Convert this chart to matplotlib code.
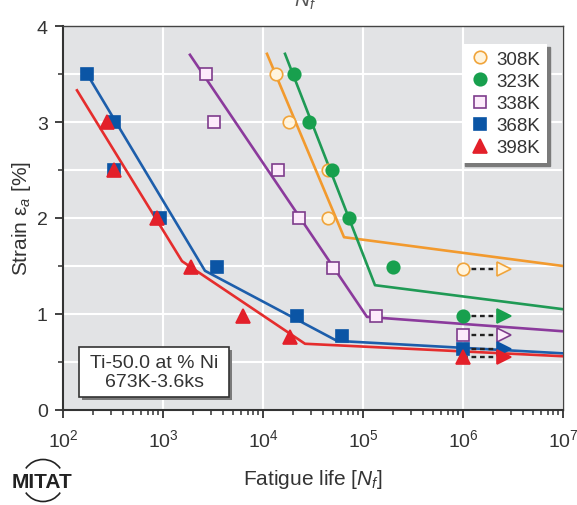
import matplotlib
matplotlib.use('Agg')
import matplotlib.pyplot as plt
from matplotlib.patches import Arc, Rectangle
from matplotlib.ticker import LogLocator, MultipleLocator, NullFormatter

plt.rcParams['font.family'] = ['Liberation Sans', 'DejaVu Sans']
plt.rcParams['mathtext.fontset'] = 'custom'
plt.rcParams['mathtext.rm'] = 'Liberation Sans'
plt.rcParams['mathtext.it'] = 'Liberation Sans:italic'

# fatigue data (cycles, strain %)
labels = ['308K', '323K', '338K', '368K', '398K']

life_308 = [13500, 18200, 44700, 44700]
strain_308 = [3.5, 3.0, 2.5, 2.0]
life_323 = [20400, 28800, 49000, 72400, 200000]
strain_323 = [3.5, 3.0, 2.5, 2.0, 1.49]
life_338 = [2690, 3240, 14100, 22900, 50000, 135000]
strain_338 = [3.5, 3.0, 2.5, 2.0, 1.48, 0.98]
life_368 = [174, 324, 324, 933, 3470, 21900, 61700]
strain_368 = [3.5, 3.0, 2.5, 2.0, 1.49, 0.98, 0.77]
life_398 = [275, 324, 870, 1900, 6300, 18600]
strain_398 = [3.0, 2.5, 2.0, 1.49, 0.98, 0.76]

# run-outs (no failure at 1e6 cycles)
runout_life = 1e6
runout_end = 2.6e6
runout_strain = [1.47, 0.98, 0.78, 0.635, 0.55]

# fitted bilinear/trilinear curves
fit_life_308 = [10960, 64600, 1e7]
fit_strain_308 = [3.71, 1.80, 1.50]
fit_life_323 = [16600, 131800, 1e7]
fit_strain_323 = [3.71, 1.30, 1.05]
fit_life_338 = [1860, 109600, 1e7]
fit_strain_338 = [3.70, 0.97, 0.82]
fit_life_368 = [174, 2630, 55000, 1e7]
fit_strain_368 = [3.5, 1.45, 0.72, 0.59]
fit_life_398 = [138, 1550, 26300, 1e7]
fit_strain_398 = [3.33, 1.55, 0.69, 0.56]

series = [
    (life_308, strain_308, fit_life_308, fit_strain_308, 'o', '#fff4de', '#f0a43a', '#f29a2e'),
    (life_323, strain_323, fit_life_323, fit_strain_323, 'o', '#18a04e', '#18a04e', '#1f9a55'),
    (life_338, strain_338, fit_life_338, fit_strain_338, 's', '#fcebfb', '#7e3c8c', '#8b3a9c'),
    (life_368, strain_368, fit_life_368, fit_strain_368, 's', '#0b55a5', '#0b55a5', '#1d5eab'),
    (life_398, strain_398, fit_life_398, fit_strain_398, '^', '#e3202a', '#e3202a', '#e52d2d'),
]
marker_size = {'o': 9, 's': 8.5, '^': 10}

fig = plt.figure(figsize=(5.77, 5.06), dpi=100)
ax = fig.add_axes([63 / 577, 1 - 411 / 506, 500 / 577, 384 / 506])
ax.set_facecolor('#e2e3e5')

for i, (n, s, fn, fs, mk, fc, ec, lc) in enumerate(series):
    ax.plot(fn, fs, color=lc, lw=1.9, zorder=3)
    ax.plot(n, s, ls='none', marker=mk, ms=marker_size[mk], mfc=fc, mec=ec,
            mew=1.2, label=labels[i], zorder=4)
    # run-out marker, dashed arrow
    r = runout_strain[i]
    ax.plot([runout_life, runout_end], [r, r], color='#222222', lw=1.7,
            ls='--', dashes=(2, 1.6), zorder=4)
    ax.plot([runout_life], [r], ls='none', marker=mk, ms=marker_size[mk],
            mfc=fc, mec=ec, mew=1.2, zorder=5)
    ax.plot([runout_end], [r], ls='none', marker='>', ms=10, mfc=fc, mec=ec,
            mew=1.2, zorder=5)

ax.set_xscale('log')
ax.set_xlim(1e2, 1e7)
ax.set_ylim(0, 4)
ax.xaxis.set_major_locator(LogLocator(base=10, numticks=10))
ax.xaxis.set_minor_locator(LogLocator(base=10, subs=range(2, 10), numticks=20))
ax.xaxis.set_minor_formatter(NullFormatter())
ax.yaxis.set_major_locator(MultipleLocator(1))
ax.yaxis.set_minor_locator(MultipleLocator(0.5))

ax.grid(True, which='major', color='white', lw=1.5, zorder=0)
ax.grid(True, which='minor', axis='y', color='white', lw=1.5, zorder=0)
ax.set_axisbelow(True)

for side in ['left', 'bottom']:
    ax.spines[side].set_linewidth(1.5)
    ax.spines[side].set_color('#333333')
for side in ['top', 'right']:
    ax.spines[side].set_linewidth(1.0)
    ax.spines[side].set_color('#444444')

ax.tick_params(which='major', direction='out', length=6, width=1.3,
               colors='#333333', labelsize=14, labelcolor='#333333', pad=5)
ax.tick_params(which='minor', direction='out', length=3.5, width=1.1,
               colors='#333333')
ax.tick_params(axis='x', which='major', pad=7)

ax.set_xlabel('Fatigue life [$N_f$]', fontsize=15, color='#333333', labelpad=12)
ax.set_ylabel('Strain ε$_a$ [%]', fontsize=15, color='#333333', labelpad=3)

leg = ax.legend(loc='upper right', bbox_to_anchor=(0.968, 0.953), borderaxespad=0,
                fontsize=13.5, frameon=True, fancybox=False, framealpha=1,
                facecolor='white', edgecolor='none', handletextpad=0.3,
                labelspacing=0.27, borderpad=0.35, handlelength=1.2,
                shadow={'color': '#7a7a7a', 'alpha': 1.0})
for t in leg.get_texts():
    t.set_color('#333333')

# material note box with shadow
ax.add_patch(Rectangle((0.038, 0.026), 0.30, 0.13, transform=ax.transAxes,
                       facecolor='#7a7a7a', edgecolor='none', zorder=6))
ax.add_patch(Rectangle((0.032, 0.034), 0.30, 0.13, transform=ax.transAxes,
                       facecolor='white', edgecolor='#333333', lw=1.2, zorder=7))
ax.text(0.182, 0.099, 'Ti-50.0 at % Ni\n673K-3.6ks', transform=ax.transAxes,
        ha='center', va='center', fontsize=14, color='#333333',
        linespacing=1.15, zorder=8)

# label of the chart above, only its lower edge shows
fig.text(305 / 577, 0.998, '$N_f$', fontsize=15, color='#555555',
         ha='center', va='center')

# MITAT logo
fig.text(42 / 577, 1 - 483 / 506, 'MITAT', fontsize=15, fontweight='bold',
         color='#222222', ha='center', va='center')
fig.add_artist(Arc((0.43, 0.245), 0.42, 0.42, theta1=35, theta2=145,
                   transform=fig.dpi_scale_trans, color='#222222', lw=1.2))
fig.add_artist(Arc((0.43, 0.245), 0.42, 0.42, theta1=215, theta2=325,
                   transform=fig.dpi_scale_trans, color='#222222', lw=1.2))

fig.savefig('out.png', dpi=100)
